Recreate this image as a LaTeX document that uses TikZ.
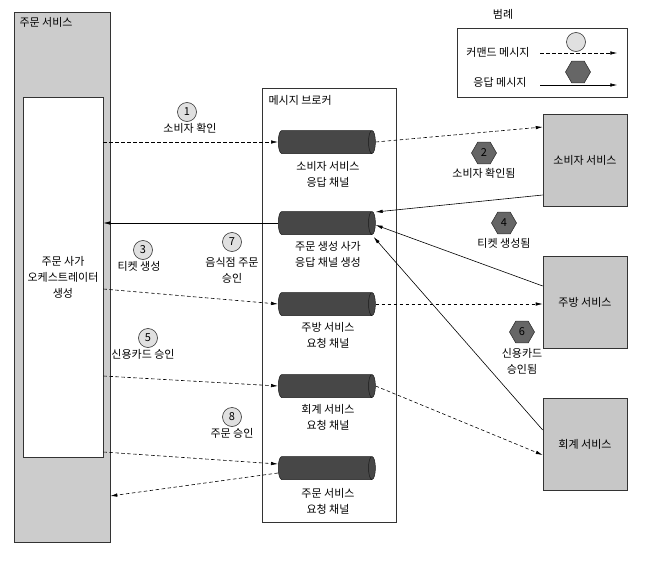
\documentclass[tikz,border=0pt]{standalone}
\usepackage{fontspec}
\setmainfont{Noto Sans CJK KR}
\usetikzlibrary{arrows.meta,shapes.geometric,calc,positioning}

\tikzset{
  svcbox/.style={draw=black!80, fill=black!22, line width=0.6pt,
    minimum width=84pt, minimum height=92pt},
  chan/.style={cylinder, draw=black!90, fill=black!72, shape aspect=0.3,
    inner xsep=45pt, inner ysep=11.5pt, line width=0.5pt, anchor=west},
  stepcirc/.style={circle, draw=black!80, fill=black!12, minimum size=19pt,
    inner sep=0pt, line width=0.6pt},
  stephex/.style={regular polygon, regular polygon sides=6, draw=black!80,
    fill=black!60, minimum size=25pt, inner sep=0pt, line width=0.6pt},
  cmdmsg/.style={dash pattern=on 3.5pt off 2.5pt, line width=0.6pt,
    -{Latex[length=7pt,width=3.5pt]}},
  repmsg/.style={line width=0.6pt, -{Latex[length=7pt,width=3.5pt]}}
}

\begin{document}
\begin{tikzpicture}[x=1pt, y=1pt, font=\fontsize{11}{16}\selectfont]
\useasboundingbox (0,0) rectangle (670,-562);

% Order service
\node[draw=black!80, fill=black!20, line width=0.6pt, minimum width=96pt,
  minimum height=530pt] (ordsvc) at (62,-277) {};
\node[anchor=west] at (16,-22) {주문 서비스};
\node[draw=black!80, fill=white, line width=0.6pt, minimum width=80pt,
  minimum height=360pt, align=center] (saga) at (63,-277)
  {주문 사가\\오케스트레이터\\생성};

% Message broker
\node[draw=black!80, line width=0.6pt, minimum width=134pt,
  minimum height=434pt] (broker) at (329,-305) {};
\node[anchor=west] at (265,-100) {메시지 브로커};

% Channels
\node[chan] (ch1) at (278,-142) {};
\node[chan] (ch2) at (278,-223) {};
\node[chan] (ch3) at (278,-304) {};
\node[chan] (ch4) at (278,-386) {};
\node[chan] (ch5) at (278,-468) {};
\node[align=center] at (328,-174) {소비자 서비스\\응답 채널};
\node[align=center] at (328,-254) {주문 생성 사가\\응답 채널 생성};
\node[align=center] at (328,-335) {주방 서비스\\요청 채널};
\node[align=center] at (328,-417) {회계 서비스\\요청 채널};
\node[align=center] at (328,-501) {주문 서비스\\요청 채널};

% Services
\node[svcbox] (consumer) at (585,-160.5) {소비자 서비스};
\node[svcbox] (kitchen) at (585,-302) {주방 서비스};
\node[svcbox] (accounting) at (585,-444) {회계 서비스};

% Legend
\node at (503,-14) {범례};
\node[draw=black!80, line width=0.6pt, minimum width=170pt,
  minimum height=69pt] (legend) at (542,-62.5) {};
\node at (498,-52) {커맨드 메시지};
\node at (500,-82) {응답 메시지};
\node[stepcirc] at (576,-42) {};
\node[stephex] at (578,-72) {};
\draw[cmdmsg] ($(legend.east)+(-87,9.5)$) -- ++(77,0);
\draw[repmsg] ($(legend.east)+(-87,-22.5)$) -- ++(77,0);

% Step labels
\node[stepcirc] at (187,-112) {1};
\node at (190,-128) {소비자 확인};
\node[stephex] at (484,-153) {2};
\node at (484,-173) {소비자 확인됨};
\node[stepcirc] at (143,-250) {3};
\node at (139,-266) {티켓 생성};
\node[stephex] at (504,-223) {4};
\node at (504,-243) {티켓 생성됨};
\node[stepcirc] at (148,-338) {5};
\node at (143,-354) {신용카드 승인};
\node[stephex] at (522,-332) {6};
\node[align=center] at (522,-361) {신용카드\\승인됨};
\node[stepcirc] at (232,-242) {7};
\node[align=center] at (232,-270) {음식점 주문\\승인};
\node[stepcirc] at (232,-417) {8};
\node at (232,-433) {주문 승인};

% Commands and replies
\draw[cmdmsg] (saga.east |- ch1.west) -- (ch1.west);
\draw[cmdmsg] (ch1.east) -- ($(consumer.west)+(0,33.5)$);
\draw[repmsg] ($(consumer.west)+(0,-34.5)$) -- ($(ch2.east)+(0,11)$);
\draw[repmsg] (ch2.west) -- (saga.east |- ch2.west);
\draw[repmsg] ($(kitchen.west)+(0,16)$) -- ($(ch2.east)+(0,-2)$);
\draw[repmsg] ($(accounting.west)+(0,14)$) -- ($(ch2.east)+(-2,-14)$);
\draw[cmdmsg] ($(saga.east |- ch3.west)+(0,15)$) -- (ch3.west);
\draw[cmdmsg] (ch3.east) -- (kitchen.west |- ch3.east);
\draw[cmdmsg] ($(saga.east |- ch4.west)+(0,10)$) -- (ch4.west);
\draw[cmdmsg] (ch4.east) -- ($(accounting.west)+(0,-11)$);
\draw[cmdmsg] ($(saga.east |- ch5.west)+(0,16)$) -- ($(ch5.west)+(0,4)$);
\draw[cmdmsg] ($(ch5.west)+(0,-5)$) -- ($(ordsvc.east |- ch5.west)+(0,-28)$);

\end{tikzpicture}
\end{document}
